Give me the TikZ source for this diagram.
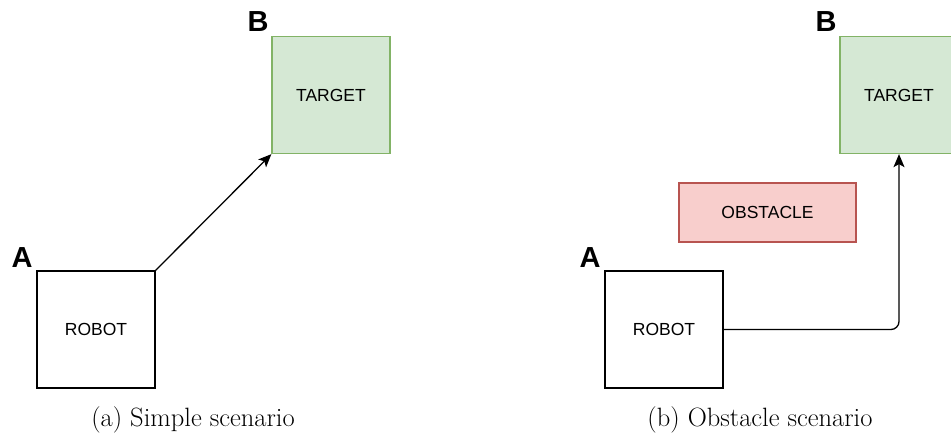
\documentclass[tikz,border=0pt]{standalone}
\usepackage{fontspec}
\newfontfamily\arialf{Liberation Sans}
\usetikzlibrary{arrows.meta}
\definecolor{tgtfill}{HTML}{D5E8D4}
\definecolor{tgtdraw}{HTML}{82B366}
\definecolor{obsfill}{HTML}{F8CECC}
\definecolor{obsdraw}{HTML}{B85450}
\begin{document}
\begin{tikzpicture}[x=1pt,y=-1pt,
  box/.style={draw=black,line width=1.3pt,minimum width=118pt,minimum height=117pt,inner sep=0pt,font=\arialf\fontsize{17.5}{19}\selectfont},
  tgt/.style={box,draw=tgtdraw,fill=tgtfill},
  obs/.style={draw=obsdraw,fill=obsfill,line width=1.3pt,minimum width=177pt,minimum height=59pt,inner sep=0pt,font=\arialf\fontsize{17.5}{19}\selectfont},
  lbl/.style={font=\arialf\bfseries\fontsize{29}{30}\selectfont,inner sep=0pt},
  captext/.style={font=\fontsize{26.5}{30}\selectfont,inner sep=0pt},
  conn/.style={line width=1.3pt,-{Stealth[length=13pt,width=11pt,inset=3pt]}}]
\useasboundingbox (0,0) rectangle (951,435);
% left
\node[box] (robotA) at (96,329.5) {ROBOT};
\node[tgt] (targetA) at (331,95) {TARGET};
\node[lbl] (labA) at (22,258) {A};
\node[lbl] (labB) at (258,22) {B};
\draw[conn] (robotA.north east) -- (targetA.south west);
\node[captext] (capA) at (193,420) {(a) Simple scenario};
% right
\node[box] (robotB) at (664,329.5) {ROBOT};
\node[tgt] (targetB) at (899,95) {TARGET};
\node[obs] (obst) at (767.5,212.5) {OBSTACLE};
\node[lbl] (labA2) at (590,258) {A};
\node[lbl] (labB2) at (826,22) {B};
\draw[conn,rounded corners=8pt] (robotB.east) -| (targetB.south);
\node[captext] (capB) at (760,420) {(b) Obstacle scenario};
\end{tikzpicture}
\end{document}
